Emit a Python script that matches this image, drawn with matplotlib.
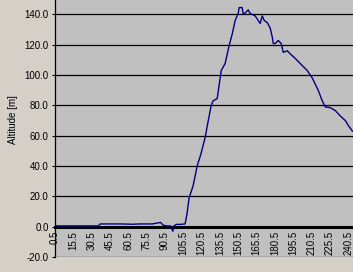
import matplotlib
matplotlib.use("Agg")
import matplotlib.pyplot as plt
from matplotlib import font_manager

# data
time = [0.5, 10, 20, 30, 36, 37.5, 45, 55, 63.6, 70, 80, 84.9, 87, 89, 92, 95, 97, 98,
        99.7, 103, 107, 108.5, 110.3, 113.6, 116.9, 120, 123.4, 126, 128.4, 130, 133.3,
        136.6, 139.8, 143.1, 145.6, 148, 150.5, 151.3, 153.8, 154.6, 156.2, 158.7, 160.3,
        162, 164.4, 166.9, 168.5, 170.2, 171.8, 174.3, 176.7, 178.4, 179.2, 180.8, 183.3,
        185.7, 187.4, 190.7, 193.1, 197.2, 201.3, 207, 211.2, 213.6, 216, 219.3, 221.8,
        225.9, 230, 234.1, 238.2, 240.7, 244]
altitude = [0.5, 0.5, 0.5, 0.5, 0.5, 1.8, 1.8, 1.8, 1.6, 1.8, 1.8, 2.5, 2.8, 1.0, 0.5, 0.5, -3, 0.5,
            1.5, 1.5, 1.8, 8, 19, 27, 40, 48, 58.7, 70, 80, 83, 84.5,
            103, 107.6, 119.5, 127, 136, 140.6, 144.5, 144.5, 140, 141, 143, 140.6,
            140, 139, 136, 134, 139, 136, 134.6, 131, 125, 120.8, 120.8, 122.8,
            120.8, 115, 116, 114, 111, 107.6, 103, 98, 94, 90, 83, 79,
            78.5, 76.6, 73, 70, 66.7, 63]
x_ticks = [0.5 + 15 * i for i in range(17)]
x_labels = [f"{v:.1f}" for v in x_ticks]
y_ticks = [-20, 0, 20, 40, 60, 80, 100, 120, 140]
y_labels = [f"{v:.1f}" for v in y_ticks]

names = {f.name for f in font_manager.fontManager.ttflist}
fam = ['Liberation Sans Narrow', 'DejaVu Sans'] if 'Liberation Sans Narrow' in names else ['Liberation Sans', 'DejaVu Sans']
plt.rcParams['font.family'] = fam

fig = plt.figure(figsize=(3.53, 2.72), dpi=100)
fig.patch.set_facecolor('#D4D0C8')
ax = fig.add_axes([55/353, 15/272, 298/353, 257/272])
ax.set_facecolor('#C0C0C0')

for s in ['top', 'right']:
    ax.spines[s].set_visible(False)
ax.spines['bottom'].set_position(('data', 0))
ax.spines['bottom'].set_linewidth(2.2)
ax.spines['bottom'].set_zorder(3)
ax.spines['left'].set_linewidth(0.9)

ax.set_ylim(-20, 149.5)
ax.set_xlim(0.5, 244.5)
ax.set_yticks(y_ticks)
ax.set_yticklabels(y_labels, fontsize=7)
ax.set_xticks(x_ticks)
ax.set_xticklabels(x_labels, rotation=90, fontsize=7, va='top', ha='center')
ax.tick_params(axis='x', length=0, pad=3)
ax.tick_params(axis='y', length=2.5, pad=2, width=0.8)

for v in y_ticks:
    ax.axhline(v, color='black', lw=0.9, zorder=1)

ax.plot(time, altitude, color='#000080', lw=1.0, zorder=4)

fig.text(13/353, 1 - 120/272, 'Altitude [m]', rotation=90, ha='center', va='center', fontsize=7)

fig.savefig('out.png', dpi=100, facecolor=fig.get_facecolor())
